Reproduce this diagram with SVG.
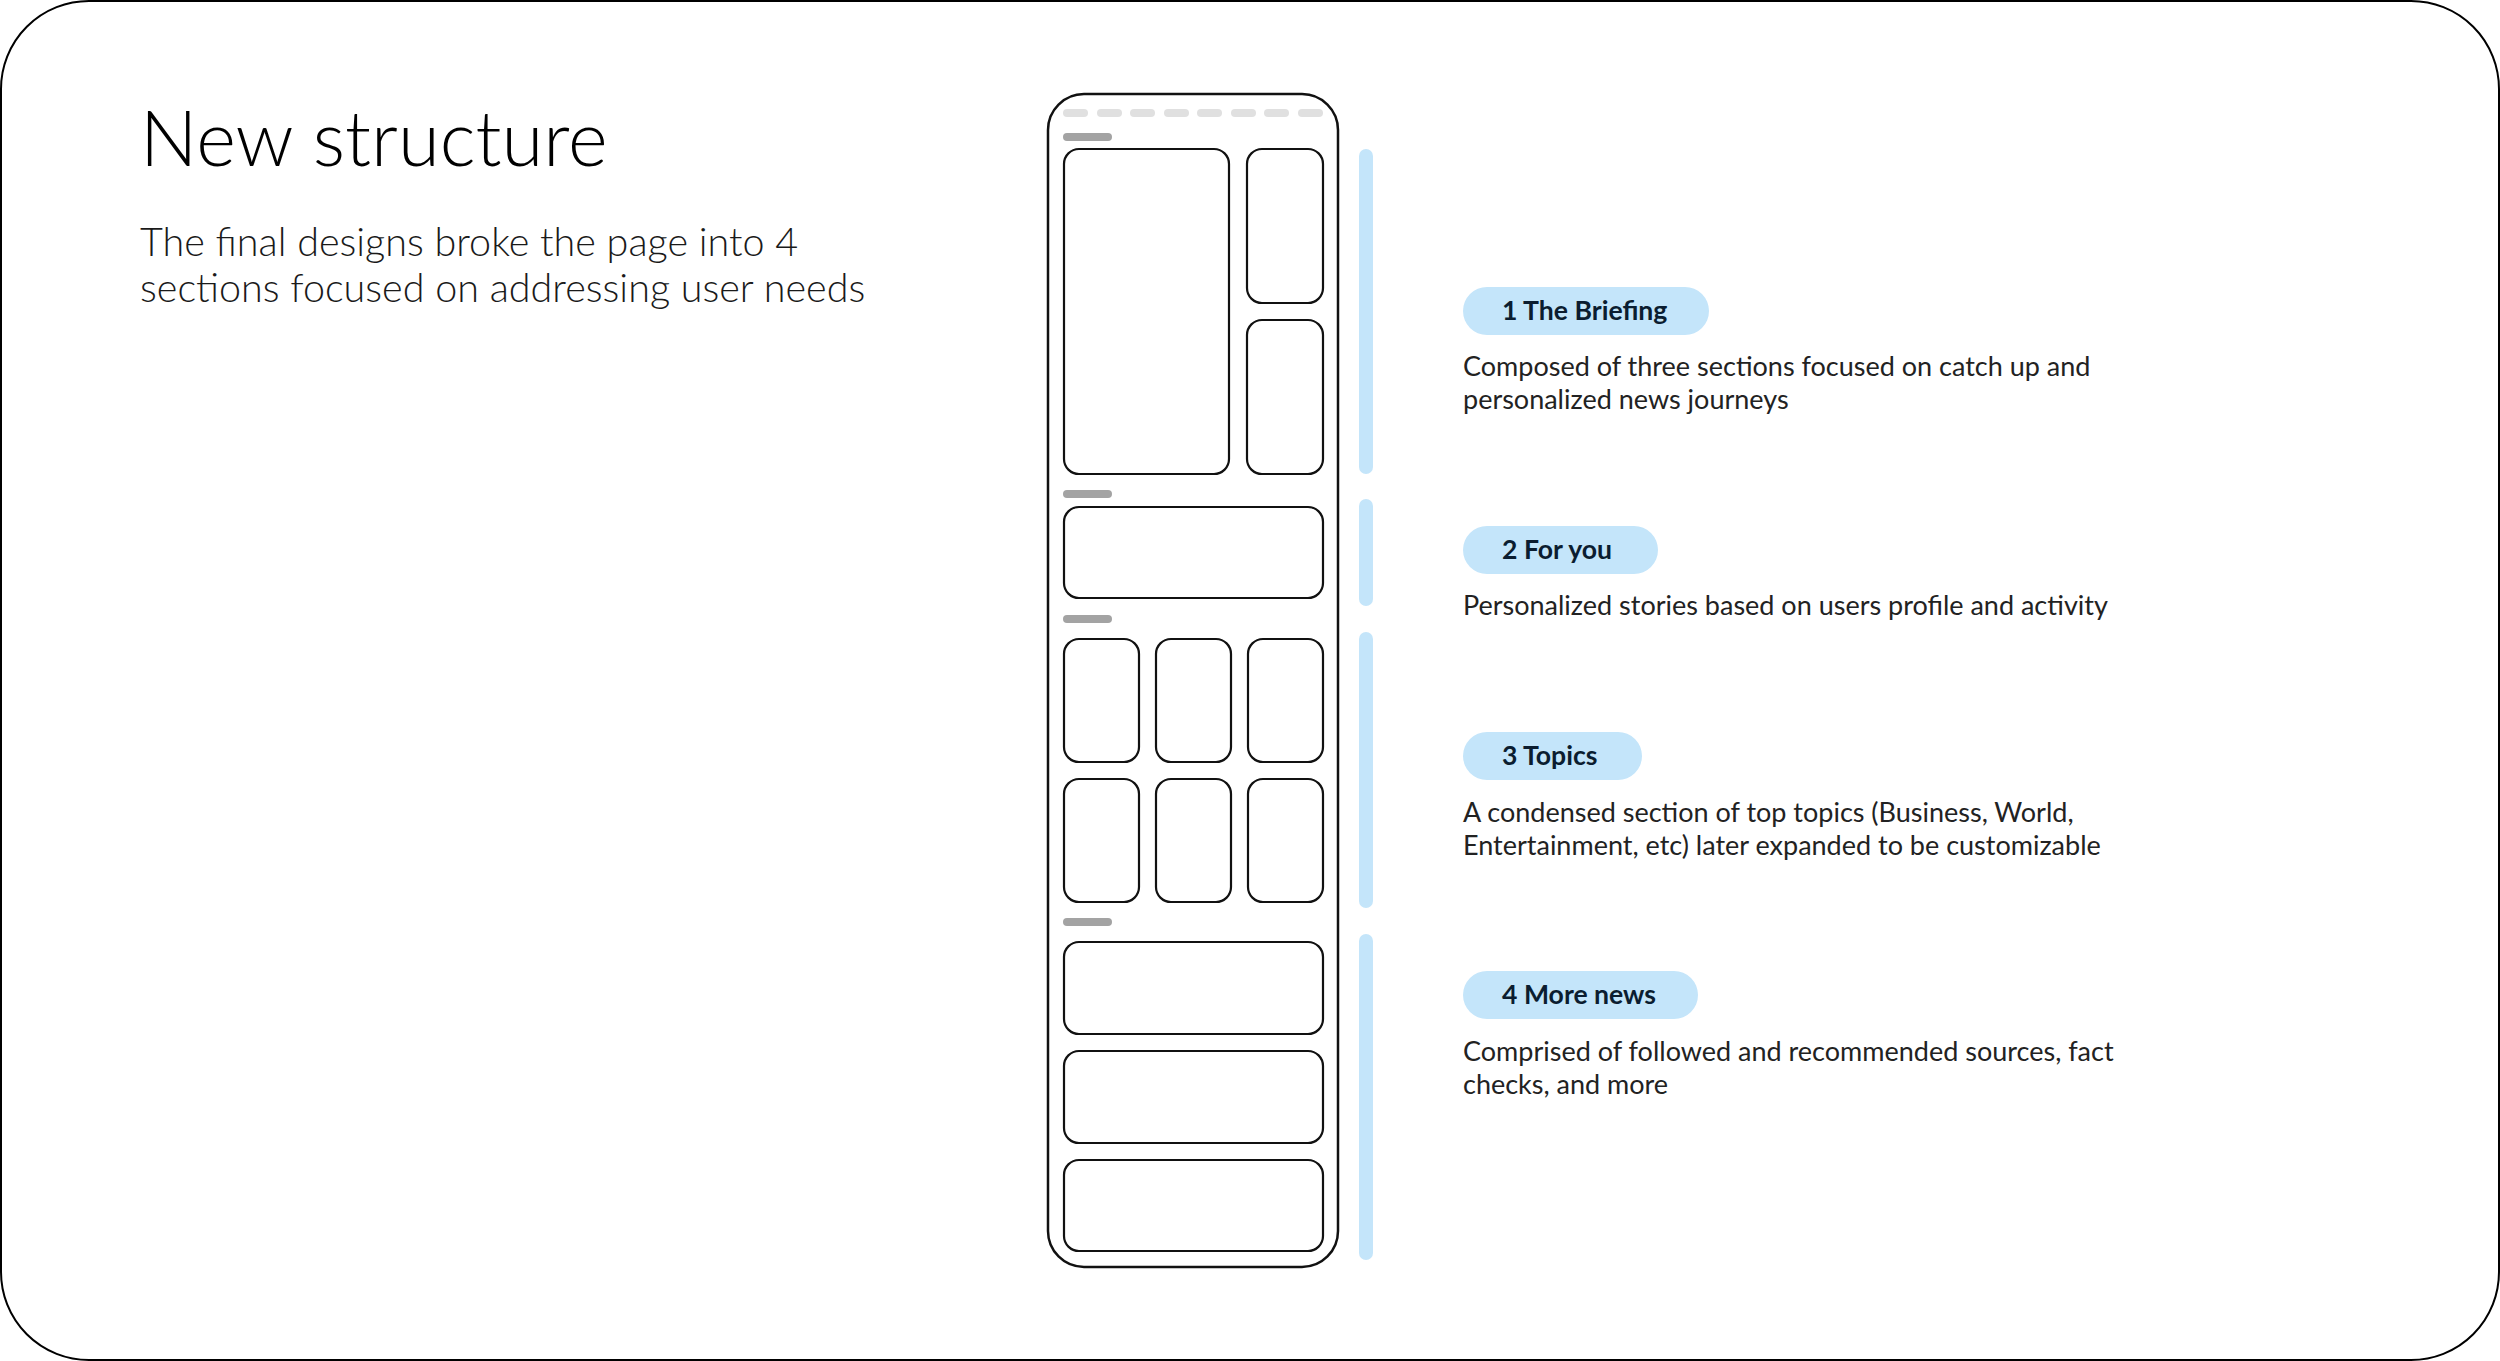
<svg xmlns="http://www.w3.org/2000/svg" width="2500" height="1361" viewBox="0 0 2500 1361">
<style>
.frame{fill:#fff;stroke:#000;stroke-width:2}
.phone{fill:#fff;stroke:#111;stroke-width:2.5}
.card{fill:#fff;stroke:#111;stroke-width:2.2}
.dash{fill:#e0e0e0}
.hdr{fill:#a3a3a3}
.bar{fill:#c4e5fa}
.pill{fill:#c4e5fa}
.title{font-family:Lato,"Liberation Sans",sans-serif;font-weight:300;font-size:76px;fill:#000}
.sub{font-family:Lato,"Liberation Sans",sans-serif;font-weight:300;font-size:39.5px;fill:#1a1a1a}
.ptxt{font-family:Lato,"Liberation Sans",sans-serif;font-weight:700;font-size:26.6px;fill:#0b1d30}
.desc{font-family:Lato,"Liberation Sans",sans-serif;font-weight:400;font-size:27px;fill:#222}
</style>
<rect class="frame" x="1" y="1" width="2498" height="1359" rx="88"/>
<g id="heading">
<text class="title" x="140" y="166">New structure</text>
<text class="sub" x="140" y="256">The final designs broke the page into 4</text>
<text class="sub" x="140" y="302">sections focused on addressing user needs</text>
</g>
<g id="phone">
<rect class="phone" x="1048" y="94" width="290" height="1173" rx="36"/>
<g id="tabs">
<rect class="dash" x="1063" y="109" width="25" height="8" rx="4"/>
<rect class="dash" x="1097" y="109" width="25" height="8" rx="4"/>
<rect class="dash" x="1130" y="109" width="25" height="8" rx="4"/>
<rect class="dash" x="1164" y="109" width="25" height="8" rx="4"/>
<rect class="dash" x="1197" y="109" width="25" height="8" rx="4"/>
<rect class="dash" x="1231" y="109" width="25" height="8" rx="4"/>
<rect class="dash" x="1264" y="109" width="25" height="8" rx="4"/>
<rect class="dash" x="1298" y="109" width="25" height="8" rx="4"/>
</g>
<g id="section-briefing">
<rect class="hdr" x="1063" y="133" width="49" height="8" rx="4"/>
<rect class="card" x="1064" y="149" width="165" height="325" rx="15"/>
<rect class="card" x="1247" y="149" width="76" height="154" rx="15"/>
<rect class="card" x="1247" y="320" width="76" height="154" rx="15"/>
</g>
<g id="section-foryou">
<rect class="hdr" x="1063" y="490" width="49" height="8" rx="4"/>
<rect class="card" x="1064" y="507" width="259" height="91" rx="15"/>
</g>
<g id="section-topics">
<rect class="hdr" x="1063" y="615" width="49" height="8" rx="4"/>
<rect class="card" x="1064" y="639" width="75" height="123" rx="15"/>
<rect class="card" x="1156" y="639" width="75" height="123" rx="15"/>
<rect class="card" x="1248" y="639" width="75" height="123" rx="15"/>
<rect class="card" x="1064" y="779" width="75" height="123" rx="15"/>
<rect class="card" x="1156" y="779" width="75" height="123" rx="15"/>
<rect class="card" x="1248" y="779" width="75" height="123" rx="15"/>
</g>
<g id="section-morenews">
<rect class="hdr" x="1063" y="918" width="49" height="8" rx="4"/>
<rect class="card" x="1064" y="942" width="259" height="92" rx="15"/>
<rect class="card" x="1064" y="1051" width="259" height="92" rx="15"/>
<rect class="card" x="1064" y="1160" width="259" height="91" rx="15"/>
</g>
</g>
<g id="connectors">
<rect class="bar" x="1359" y="149" width="14" height="325" rx="7"/>
<rect class="bar" x="1359" y="499" width="14" height="107" rx="7"/>
<rect class="bar" x="1359" y="632" width="14" height="276" rx="7"/>
<rect class="bar" x="1359" y="934" width="14" height="326" rx="7"/>
</g>
<g id="label-1">
<rect class="pill" x="1463" y="287" width="246" height="48" rx="24"/>
<text class="ptxt" x="1502" y="320">1 The Briefing</text>
<text class="desc" x="1463" y="376">Composed of three sections focused on catch up and</text>
<text class="desc" x="1463" y="409">personalized news journeys</text>
</g>
<g id="label-2">
<rect class="pill" x="1463" y="526" width="195" height="48" rx="24"/>
<text class="ptxt" x="1502" y="559">2 For you</text>
<text class="desc" x="1463" y="615">Personalized stories based on users profile and activity</text>
</g>
<g id="label-3">
<rect class="pill" x="1463" y="732" width="179" height="48" rx="24"/>
<text class="ptxt" x="1502" y="765">3 Topics</text>
<text class="desc" x="1463" y="822">A condensed section of top topics (Business, World,</text>
<text class="desc" x="1463" y="855">Entertainment, etc) later expanded to be customizable</text>
</g>
<g id="label-4">
<rect class="pill" x="1463" y="971" width="235" height="48" rx="24"/>
<text class="ptxt" x="1502" y="1004">4 More news</text>
<text class="desc" x="1463" y="1061">Comprised of followed and recommended sources, fact</text>
<text class="desc" x="1463" y="1094">checks, and more</text>
</g>
</svg>
